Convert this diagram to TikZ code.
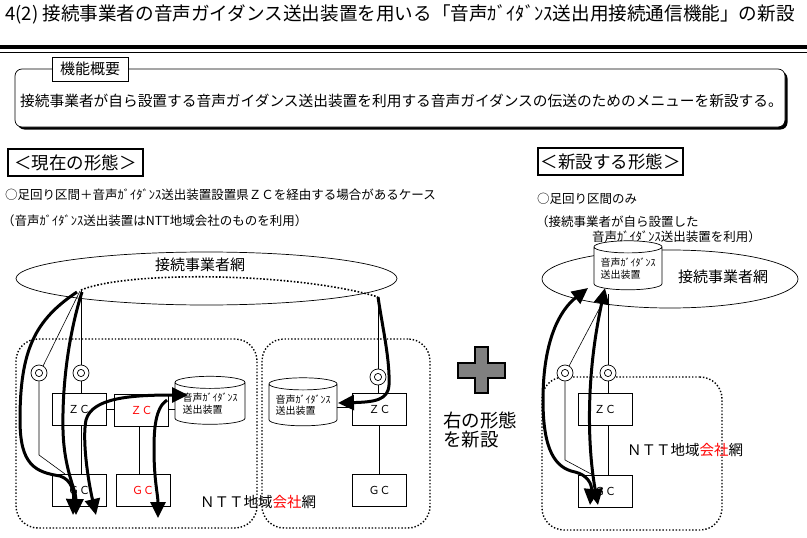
\documentclass[tikz,border=0pt]{standalone}
\usepackage{fontspec}
\setmainfont{Noto Sans CJK JP}
\usepackage{xcolor}
\usetikzlibrary{arrows.meta,shapes.geometric,shadows,positioning}
\definecolor{nttred}{RGB}{255,0,0}
\definecolor{plusgray}{RGB}{128,128,128}
\newcommand\fs[1]{\fontsize{#1pt}{#1pt}\selectfont}

\begin{document}
\begin{tikzpicture}[x=1pt, y=-1pt,
    box/.style={draw, line width=0.7pt, fill=white, minimum width=54pt,
      minimum height=32pt, inner sep=0pt, font=\fs{11}},
    poi/.style={circle, draw, line width=0.7pt, fill=white, minimum size=16pt,
      inner sep=0pt, path picture={\draw[line width=0.7pt]
        (path picture bounding box.center) circle (3.6pt);}},
    store/.style={cylinder, shape border rotate=90, aspect=0.22, draw,
      line width=0.7pt, fill=white, minimum width=68pt, minimum height=48pt,
      inner sep=0pt, align=left, font=\fontsize{10pt}{11.5pt}\selectfont},
    area/.style={draw, rounded corners=22pt, line width=1.4pt,
      dash pattern=on 1.4pt off 1.9pt},
    wire/.style={line width=0.6pt},
    flow/.style={line width=3pt, -{Triangle[width=15pt,length=16pt]}},
    flowboth/.style={line width=3pt,
      {Triangle[width=15pt,length=16pt]}-{Triangle[width=15pt,length=16pt]}},
    note/.style={anchor=west, inner sep=0pt, font=\fs{12.5}},
    modebox/.style={draw, line width=1.6pt, minimum height=27pt, inner sep=0pt,
      font=\fs{17.5}},
  ]
  \useasboundingbox (0,0) rectangle (807,538);

  %% heading
  \node[anchor=west, inner sep=0pt, font=\fs{18.6}] (title) at (5,14)
    {4(2) 接続事業者の音声ガイダンス送出装置を用いる「音声ｶﾞｲﾀﾞﾝｽ送出用接続通信機能」の新設};
  \draw[line width=4pt] (0,46.5) -- (807,46.5);
  \draw[line width=0.8pt] (0,52) -- (807,52);

  %% summary box
  \node[draw, rounded corners=7pt, fill=white, line width=0.7pt,
        minimum width=770pt, minimum height=58pt,
        drop shadow={shadow xshift=2.5pt, shadow yshift=-2.5pt, fill=black, opacity=1}]
    (summary) at (400,98) {};
  \node[draw, fill=white, line width=0.7pt, minimum width=76pt, minimum height=24pt,
        inner sep=0pt, font=\fs{15}] (sumlabel) at (90,69) {機能概要};
  \node[anchor=west, inner sep=0pt, font=\fs{14.7}] (sumtext) at (20,101)
    {接続事業者が自ら設置する音声ガイダンス送出装置を利用する音声ガイダンスの伝送のためのメニューを新設する。};

  %% captions
  \node[modebox, minimum width=135pt] (nowmode) at (75.5,162.5) {＜現在の形態＞};
  \node[modebox, minimum width=145pt] (newmode) at (610.5,161.5) {＜新設する形態＞};
  \node[note] (nowcase) at (5,195)
    {○足回り区間＋音声ｶﾞｲﾀﾞﾝｽ送出装置設置県ＺＣを経由する場合があるケース};
  \node[note] (nowuse) at (2,221) {（音声ｶﾞｲﾀﾞﾝｽ送出装置はNTT地域会社のものを利用）};
  \node[note] (newcase) at (537,199) {○足回り区間のみ};
  \node[note] (newuse) at (536,222) {（接続事業者が自ら設置した};
  \node[note] (newuse2) at (592,237) {音声ｶﾞｲﾀﾞﾝｽ送出装置を利用）};

  %% current form: networks
  \node[ellipse, draw, line width=0.7pt, minimum width=381pt, minimum height=53pt]
    (netL) at (206.5,278.5) {};
  \node[font=\fs{15}] (netLlabel) at (200,265) {接続事業者網};
  \node[area, minimum width=241pt, minimum height=189pt] (nttL) at (136.5,433.5) {};
  \node[area, minimum width=168pt, minimum height=189pt] (nttM) at (346,433.5) {};
  \node[font=\fs{14.5}] (nttLlabel) at (258,502) {ＮＴＴ地域\textcolor{nttred}{会社}網};

  \coordinate (tapL) at (81,290);
  \coordinate (tapR) at (378,297);
  \coordinate (kinkL) at (39,455);
  \coordinate (gcAin) at (65,474);

  \node[poi] (pL1) at (39,373) {};
  \node[poi] (pL2) at (81,373) {};
  \node[poi] (pM) at (378,377) {};
  \node[box] (zcA) at (79,409) {ＺＣ};
  \node[box, text=nttred] (zcB) at (141.5,410) {ＺＣ};
  \node[box] (gcA) at (79,490) {ＧＣ};
  \node[box, text=nttred] (gcB) at (143,490) {ＧＣ};
  \node[store, minimum width=70pt] (storeA) at (210,403.5) {音声ｶﾞｲﾀﾞﾝｽ\\送出装置};
  \node[store] (storeB) at (303,405) {音声ｶﾞｲﾀﾞﾝｽ\\送出装置};
  \node[box] (zcC) at (379.5,409) {ＺＣ};
  \node[box] (gcC) at (379.5,490) {ＧＣ};

  %% thin links
  \draw[wire] (tapL) -- (pL2.north);
  \draw[wire] (80,291) -- (pL1.60);
  \draw[wire] (pL1.south) -- (kinkL) -- (gcAin);
  \draw[wire] (pL2.south) -- (pL2.south |- zcA.north);
  \draw[wire] (pL2.south |- zcA.south) -- (pL2.south |- gcA.north);
  \draw[wire] (zcA.east) -- (zcB.west |- zcA.east);
  \draw[wire] (zcB.east |- zcA.east) -- (storeA.west |- zcA.east);
  \draw[wire] (139,426) -- (139,474);
  \draw[wire] (tapR) -- (pM.north);
  \draw[wire] (pM.south) -- (zcC.north -| pM.south);
  \draw[wire] (zcC.south) -- (gcC.north);
  \draw[wire] (storeB.east |- 0,407) -- (zcC.west |- 0,407);

  %% routes
  \draw[line width=1.6pt, dash pattern=on 1.6pt off 1.8pt]
    (tapL) .. controls (130,270) and (300,273) .. (tapR);
  \draw[flow] (77,292) .. controls (35,320) and (20,350) .. (20,420)
    .. controls (20,465) and (35,472) .. (60,476)
    .. controls (72,480) and (74,492) .. (73,515);
  \draw[flow] (82,292) .. controls (70,330) and (62,380) .. (63,430)
    .. controls (64,470) and (76,490) .. (76,515);
  \draw[flowboth] (96,515) .. controls (88,480) and (82,440) .. (86,420)
    .. controls (92,398) and (130,395) .. (188,395);
  \draw[flow] (167,400) .. controls (155,408) and (154,430) .. (154,450)
    .. controls (154,480) and (158,495) .. (158,518);
  \draw[flow] (tapR) .. controls (383,330) and (390,360) .. (389,385)
    .. controls (388,400) and (375,402) .. (338,403);

  %% plus sign
  \draw[line width=1.8pt, fill=plusgray] (475,347) -- (488,347) -- (488,363) -- (505,363)
    -- (505,378) -- (488,378) -- (488,393) -- (475,393) -- (475,378) -- (458,378)
    -- (458,363) -- (475,363) -- cycle;
  \node[anchor=north west, align=left, inner sep=0pt,
        font=\fontsize{18.5pt}{19pt}\selectfont] (addnote) at (443,412) {右の形態\\を新設};

  %% new form
  \node[ellipse, draw, line width=0.7pt, minimum width=256pt, minimum height=58pt]
    (netR) at (670,279) {};
  \node[font=\fs{15}] (netRlabel) at (723,277) {接続事業者網};
  \node[store, minimum height=49pt] (storeR) at (628,268.5) {音声ｶﾞｲﾀﾞﾝｽ\\送出装置};
  \node[area, minimum width=180pt, minimum height=153pt] (nttR) at (632,453.5) {};
  \node[font=\fs{14.5}] (nttRlabel) at (685,450) {ＮＴＴ地域\textcolor{nttred}{会社}網};

  \coordinate (tapR2) at (608,294);
  \coordinate (kinkR) at (565,460);
  \coordinate (gcDin) at (593,475);

  \node[poi] (pR1) at (565,373) {};
  \node[poi] (pR2) at (608,373) {};
  \node[box] (zcD) at (605,409.5) {ＺＣ};
  \node[box] (gcD) at (605,491) {ＧＣ};

  \draw[wire] (tapR2) -- (pR2.north);
  \draw[wire] (606,296) -- (pR1.60);
  \draw[wire] (pR1.south) -- (kinkR) -- (gcDin);
  \draw[wire] (pR2.south) -- (pR2.south |- zcD.north);
  \draw[wire] (pR2.south |- zcD.south) -- (pR2.south |- gcD.north);

  \draw[flowboth] (590,505) .. controls (592,485) and (588,475) .. (575,472)
    .. controls (555,468) and (543,450) .. (543,400)
    .. controls (543,340) and (560,310) .. (588,288);
  \draw[flowboth] (598,505) .. controls (588,450) and (585,380) .. (605,288);
\end{tikzpicture}
\end{document}
